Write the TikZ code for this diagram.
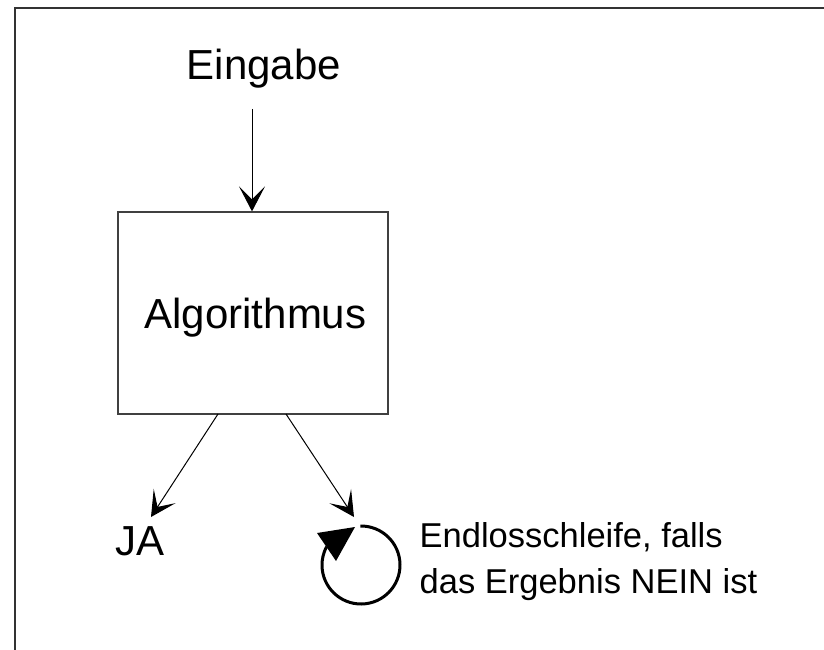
\documentclass[tikz,border=0pt]{standalone}
\usepackage{fontspec}
\setmainfont{Liberation Sans}
\usetikzlibrary{arrows.meta}
\tikzset{
  frameline/.style={line width=2pt, draw=black!80},
  algbox/.style={draw=black!75, line width=1.2pt, minimum width=270pt, minimum height=202pt, inner sep=0pt},
  bigtext/.style={font=\fontsize{42}{50}\selectfont, inner sep=0pt},
  smalltext/.style={font=\fontsize{34.5}{46}\selectfont, inner sep=0pt, align=left},
  flow/.style={line width=1pt, -{Stealth[length=25pt, width=26pt, inset=13pt]}},
  loopline/.style={line width=3pt}
}
\begin{document}
\begin{tikzpicture}[x=1pt,y=1pt]
\useasboundingbox (0,0) rectangle (824,-650);
% frame
\coordinate (ftl) at (15,-8);
\coordinate (ftr) at (824,-8);
\coordinate (fbl) at (15,-650);
\draw[frameline] (ftr) -- (ftl) -- (fbl);
% nodes
\node[bigtext, anchor=base] (ein) at (264,-80) {Eingabe};
\node[algbox] (alg) at (253,-313) {};
\node[bigtext, anchor=base] (algtxt) at (255.5,-328) {Algorithmus};
\node[bigtext, anchor=base] (ja) at (140.5,-555) {JA};
\node[smalltext, anchor=north west] (endlos) at (419.5,-522.3) {Endlosschleife, falls\\das Ergebnis NEIN ist};
% connectors
\coordinate (in1) at (252,-109);
\draw[flow] (in1) -- (in1 |- alg.north);
\coordinate (s1) at (218,-414);
\coordinate (t1) at (151,-517);
\draw[flow] (s1) -- (t1);
\coordinate (s2) at (286,-414);
\coordinate (t2) at (354,-517);
\draw[flow] (s2) -- (t2);
% loop
\coordinate (lc) at (361,-565);
\draw[loopline] (lc) ++(91:39) arc[start angle=91, end angle=-208, radius=39];
\fill (317,-533) -- (336,-561) -- (355,-527) -- cycle;
\end{tikzpicture}
\end{document}
